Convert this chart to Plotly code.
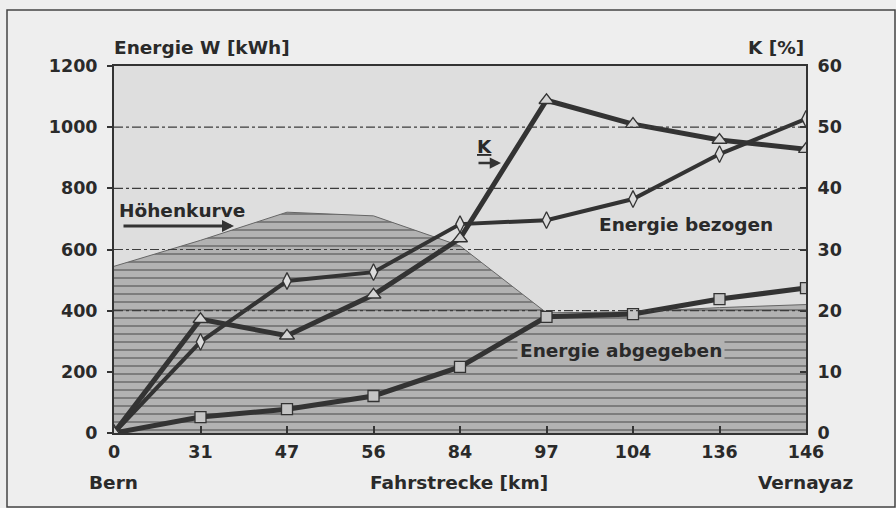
import plotly.graph_objects as go

# ---- data ----
km_labels = ["0", "31", "47", "56", "84", "97", "104", "136", "146"]
hoehenkurve = [545, 630, 722, 710, 612, 393, 396, 410, 420]          # kWh-scale (profile)
energie_bezogen = [0, 298, 497, 526, 683, 696, 765, 912, 1027]       # kWh
energie_abgegeben = [0, 52, 78, 121, 216, 380, 389, 438, 474]        # kWh
k_percent = [0, 18.6, 15.9, 22.6, 31.8, 54.4, 50.5, 47.9, 46.4]      # %
left_ticks = [0, 200, 400, 600, 800, 1000, 1200]
right_ticks = [0, 10, 20, 30, 40, 50, 60]
grid_levels = [400, 600, 800, 1000]

x = list(range(len(km_labels)))

DARK = "#333333"
FONT = "DejaVu Sans"

# plot-area pixel geometry
L, R, T, B = 114, 806, 66, 433
W, H = 896, 508


def pxx(p):
    return (p - L) / (R - L)


def pxy(p):
    return (B - p) / (B - T)


fig = go.Figure()

fig.add_trace(go.Scatter(
    x=x, y=hoehenkurve, mode="lines", fill="tozeroy",
    line=dict(color="#666666", width=1),
    fillcolor="#b2b2b2",
    fillpattern=dict(shape="-", bgcolor="#b2b2b2", fgcolor="#474747",
                     size=8, solidity=0.25),
    hoverinfo="skip", showlegend=False))

fig.add_trace(go.Scatter(
    x=x, y=energie_abgegeben, mode="lines+markers",
    line=dict(color=DARK, width=5),
    marker=dict(symbol="square", size=11, color="#c4c4c4",
                line=dict(color=DARK, width=1.3)),
    showlegend=False))

fig.add_trace(go.Scatter(
    x=x, y=energie_bezogen, mode="lines+markers",
    line=dict(color=DARK, width=4),
    marker=dict(symbol="diamond-tall", size=12, color="#dcdcdc",
                line=dict(color=DARK, width=1.3)),
    showlegend=False))

fig.add_trace(go.Scatter(
    x=x, y=k_percent, mode="lines+markers", yaxis="y2",
    line=dict(color=DARK, width=5),
    marker=dict(symbol="triangle-up", size=13, color="#d4d4d4",
                line=dict(color=DARK, width=1.3)),
    showlegend=False))

shapes = []
for g in grid_levels:
    shapes.append(dict(type="line", xref="paper", yref="y", x0=0, x1=1, y0=g, y1=g,
                       line=dict(color="#3c3c3c", width=1.2, dash="dashdot"),
                       layer="above"))
# outer frame of the figure
shapes.append(dict(type="rect", xref="paper", yref="paper",
                   x0=pxx(7), x1=pxx(895), y0=pxy(507), y1=pxy(10),
                   line=dict(color="#444444", width=1.5), layer="below"))

tf = dict(family=FONT, size=18.5, color="#2a2a2a", weight="bold")
annotations = [
    dict(text="Energie W [kWh]", x=pxx(112), y=pxy(48), xanchor="left", yanchor="middle"),
    dict(text="K [%]", x=pxx(806), y=pxy(48), xanchor="right", yanchor="middle"),
    dict(text="Höhenkurve", x=pxx(117), y=pxy(211), xanchor="left", yanchor="middle"),
    dict(text="Energie bezogen", x=pxx(686), y=pxy(224), xanchor="center", yanchor="middle"),
    dict(text="Energie abgegeben", x=pxx(621), y=pxy(350), xanchor="center", yanchor="middle",
         bgcolor="#b2b2b2", borderpad=2),
    dict(text="<u>K</u>", x=pxx(484), y=pxy(146), xanchor="center", yanchor="middle"),
    dict(text="Bern", x=pxx(113), y=pxy(482), xanchor="center", yanchor="middle"),
    dict(text="Fahrstrecke [km]", x=pxx(459), y=pxy(482), xanchor="center", yanchor="middle"),
    dict(text="Vernayaz", x=pxx(805), y=pxy(482), xanchor="center", yanchor="middle"),
]
for a in annotations:
    a.update(xref="paper", yref="paper", showarrow=False, font=tf)

# arrows (tail offset in pixels)
annotations.append(dict(xref="paper", yref="paper", x=pxx(234), y=pxy(226),
                        ax=-112, ay=0, axref="pixel", ayref="pixel",
                        text="", showarrow=True, arrowhead=2, arrowsize=0.8,
                        arrowwidth=3, arrowcolor=DARK))
annotations.append(dict(xref="paper", yref="paper", x=pxx(501), y=pxy(163),
                        ax=-24, ay=0, axref="pixel", ayref="pixel",
                        text="", showarrow=True, arrowhead=2, arrowsize=0.9,
                        arrowwidth=2.5, arrowcolor=DARK))

tickfont = dict(family=FONT, size=17.5, color="#2a2a2a", weight="bold")

fig.update_layout(
    width=W, height=H, autosize=False,
    margin=dict(l=L, r=W - R, t=T, b=H - B, pad=0),
    paper_bgcolor="#eeeeee",
    plot_bgcolor="#dedede",
    shapes=shapes,
    annotations=annotations,
    xaxis=dict(range=[0, 8], tickmode="array", tickvals=x, ticktext=km_labels,
               showgrid=False, zeroline=False, showline=True, mirror=True,
               linecolor=DARK, linewidth=2, ticks="inside", ticklen=7,
               tickcolor=DARK, tickwidth=1.5, tickfont=tickfont,
               ticklabelstandoff=2),
    yaxis=dict(range=[0, 1200], tickmode="array", tickvals=left_ticks,
               showgrid=False, zeroline=False, showline=True,
               linecolor=DARK, linewidth=2, ticks="outside", ticklen=5,
               tickcolor=DARK, tickwidth=2, tickfont=tickfont,
               ticklabelstandoff=6),
    yaxis2=dict(range=[0, 60], tickmode="array", tickvals=right_ticks,
                overlaying="y", side="right", showgrid=False, zeroline=False,
                showline=True, linecolor=DARK, linewidth=2, ticks="inside",
                ticklen=6, tickcolor=DARK, tickwidth=1.5, tickfont=tickfont,
                ticklabelstandoff=6),
    hovermode=False,
)

fig.write_html("out.html",
               config={"displayModeBar": False},
               post_script="document.body.style.margin='0px';"
                           "document.body.style.overflow='hidden';")
